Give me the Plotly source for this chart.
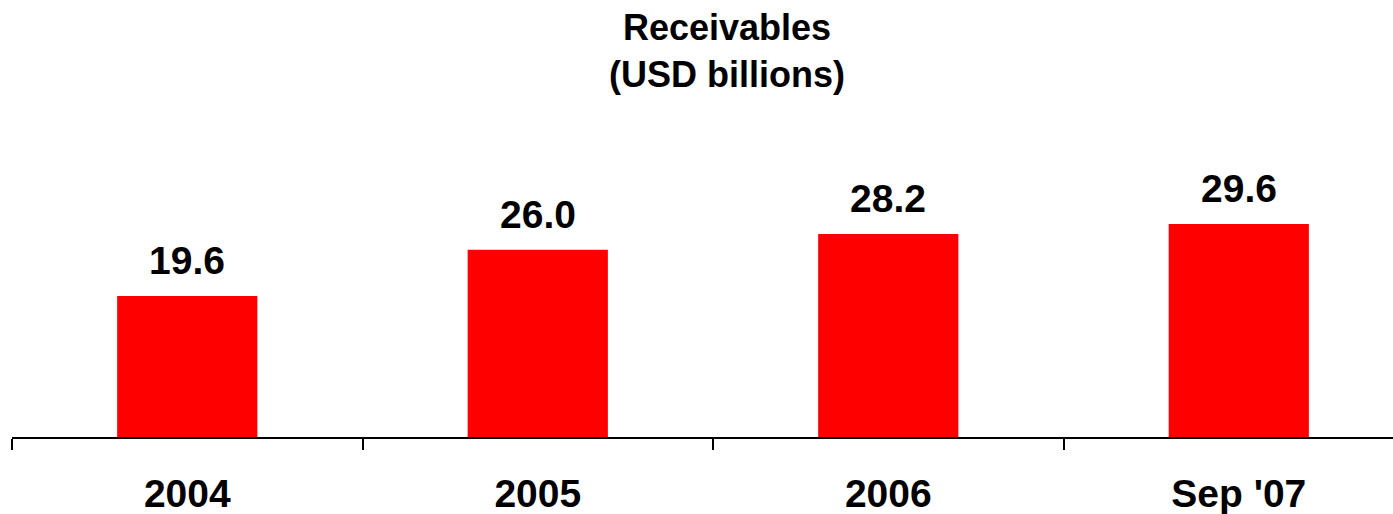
import plotly.graph_objects as go

categories = ["2004", "2005", "2006", "Sep '07"]
values = [19.6, 26.0, 28.2, 29.6]
value_labels = ["19.6", "26.0", "28.2", "29.6"]

FONT = "Liberation Sans, Arial, sans-serif"

fig = go.Figure()
fig.add_trace(go.Bar(
    x=categories, y=values,
    marker=dict(color="#FF0000", line=dict(width=0)),
    width=0.40,
    hoverinfo="skip",
))

for i, (v, t) in enumerate(zip(values, value_labels)):
    fig.add_annotation(x=i, y=v, text=f"<b>{t}</b>", showarrow=False,
                       xref="x", yref="y",
                       yanchor="bottom", yshift=12,
                       font=dict(family=FONT, size=39, color="black"))

fig.add_annotation(xref="paper", yref="paper", x=0.518, y=1.0,
                   text="<b>Receivables</b><br><b>(USD billions)</b>",
                   showarrow=False, xanchor="center", yanchor="bottom",
                   yshift=52,
                   font=dict(family=FONT, size=36, color="black"))

fig.update_layout(
    width=1393, height=514,
    margin=dict(l=12, r=0, t=149, b=77, autoexpand=False),
    paper_bgcolor="white", plot_bgcolor="white",
    showlegend=False,
    xaxis=dict(
        type="category",
        range=[-0.5, 3.44],
        tickson="boundaries",
        ticks="outside", ticklen=11, tickwidth=2, tickcolor="black",
        showline=True, linecolor="black", linewidth=2,
        showgrid=False, zeroline=False, automargin=False,
        tickfont=dict(family=FONT, size=39, color="black"),
        ticklabelstandoff=21,
    ),
    yaxis=dict(range=[0, 40], visible=False, showgrid=False, zeroline=False, automargin=False),
)
fig.update_xaxes(tickprefix="<b>", ticksuffix="</b>")

fig.write_html("out.html",
               config={"displayModeBar": False, "staticPlot": True},
               post_script="document.body.style.margin='0';document.body.style.overflow='hidden';")
